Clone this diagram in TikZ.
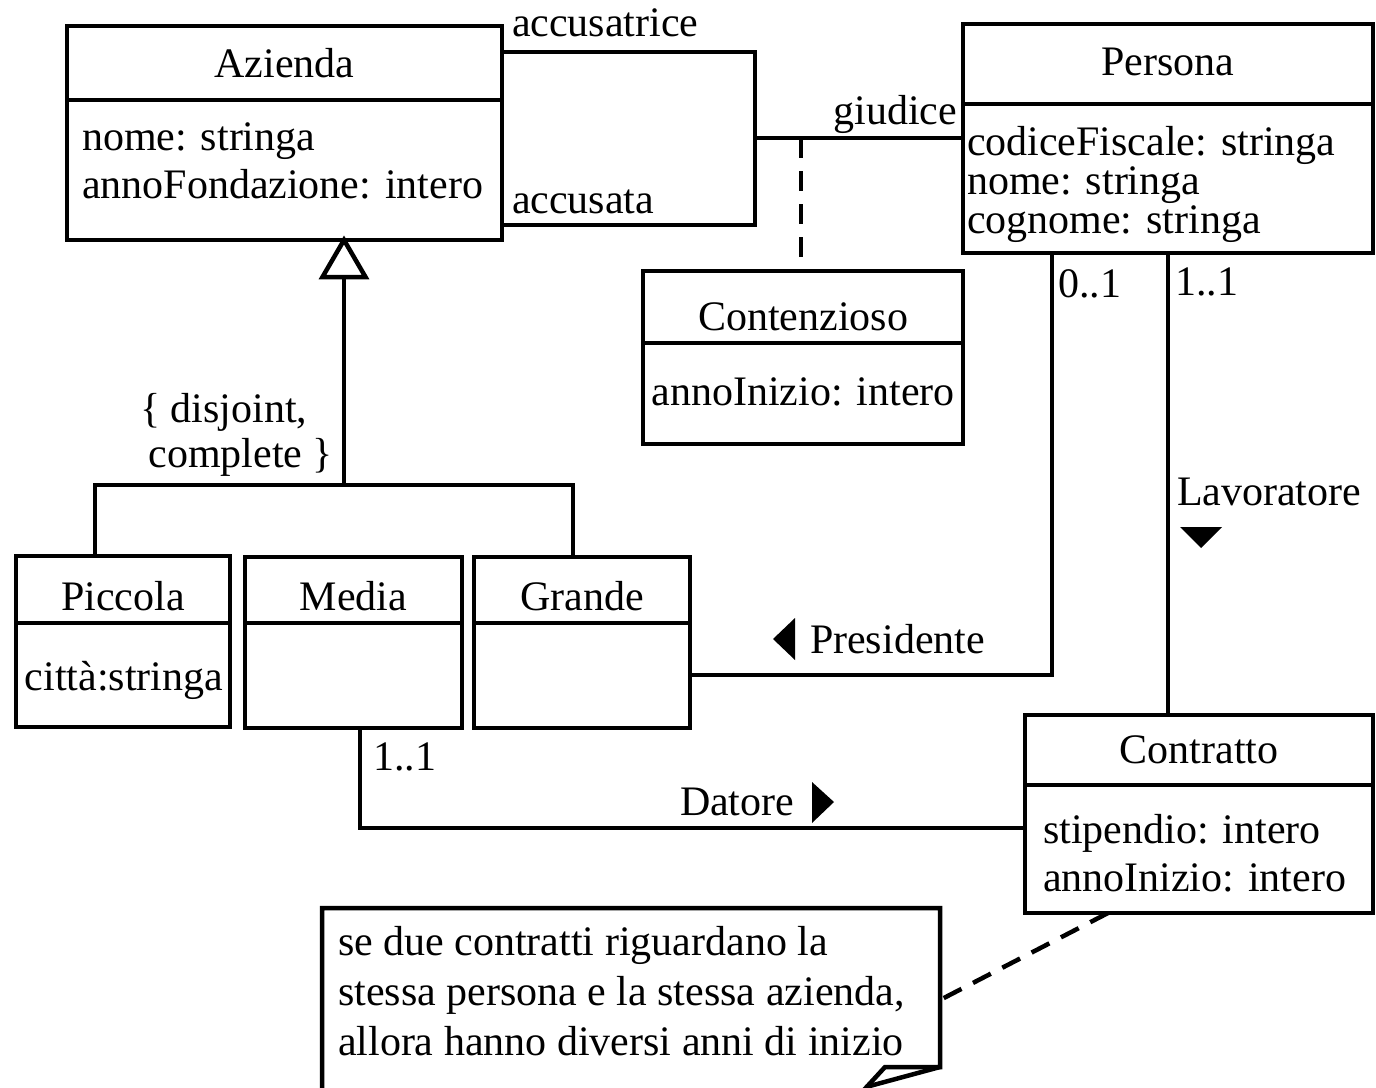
\documentclass[tikz,border=0pt]{standalone}
\usepackage{fontspec}
\setmainfont{Liberation Serif}
\begin{document}
\begin{tikzpicture}[x=1pt,y=-1pt,line width=4.5pt,
  box/.style={draw,inner sep=0pt,outer sep=0pt},
  txt/.style={inner sep=0pt,outer sep=0pt,font=\fontsize{42}{48}\selectfont},
  lbl/.style={txt,anchor=base west},
  ctr/.style={txt,anchor=base},
  rgt/.style={txt,anchor=base east},
  dashline/.style={dash pattern=on 20pt off 13pt},
  tri/.style={fill=black,draw=none}]
\useasboundingbox (0,0) rectangle (1376,1087);
% classes
\node[box,minimum width=435pt,minimum height=214pt] (az) at (284.5,133) {};
\node[box,minimum width=410pt,minimum height=229pt] (pe) at (1168,138.5) {};
\node[box,minimum width=320pt,minimum height=173pt] (co) at (803,357.5) {};
\node[box,minimum width=214pt,minimum height=171pt] (pi) at (123,641.5) {};
\node[box,minimum width=217pt,minimum height=171pt] (me) at (353.5,642.5) {};
\node[box,minimum width=216pt,minimum height=171pt] (gr) at (582,642.5) {};
\node[box,minimum width=348pt,minimum height=198pt] (ct) at (1199,814) {};
% dividers
\coordinate (dAz) at (0,100); \draw (az.west |- dAz) -- (az.east |- dAz);
\coordinate (dPe) at (0,104); \draw (pe.west |- dPe) -- (pe.east |- dPe);
\coordinate (dCo) at (0,343); \draw (co.west |- dCo) -- (co.east |- dCo);
\coordinate (dSub) at (0,623);
\draw (pi.west |- dSub) -- (pi.east |- dSub);
\draw (me.west |- dSub) -- (me.east |- dSub);
\draw (gr.west |- dSub) -- (gr.east |- dSub);
\coordinate (dCt) at (0,785); \draw (ct.west |- dCt) -- (ct.east |- dCt);
% class texts
\node[ctr] (tAz) at (284.5,77) {Azienda};
\node[lbl] (tAz1) at (82,150) {nome: stringa};
\node[lbl] (tAz2) at (82,198) {annoFondazione: intero};
\node[ctr] (tPe) at (1168,75) {Persona};
\node[lbl] (tPe1) at (967,155) {codiceFiscale: stringa};
\node[lbl] (tPe2) at (967,194) {nome: stringa};
\node[lbl] (tPe3) at (967,233) {cognome: stringa};
\node[ctr] (tCo) at (803,330) {Contenzioso};
\node[ctr] (tCo1) at (803,405) {annoInizio: intero};
\node[ctr] (tPi) at (123,610) {Piccola};
\node[ctr] (tPi1) at (124,690) {città:stringa};
\node[ctr] (tMe) at (353.5,610) {Media};
\node[ctr] (tGr) at (582,610) {Grande};
\node[ctr] (tCt) at (1199,763) {Contratto};
\node[lbl] (tCt1) at (1043,843) {stipendio: intero};
\node[lbl] (tCt2) at (1043,891) {annoInizio: intero};
% association accusatrice / accusata / giudice
\coordinate (b1) at (755,52);
\coordinate (b2) at (755,225);
\coordinate (b3) at (755,138);
\coordinate (b4) at (801,138);
\draw (az.east |- b1) -- (b1) -- (b2) -- (az.east |- b2);
\draw (b3) -- (pe.west |- b3);
\draw[dashline] (b4) -- (co.north -| b4);
\node[lbl] (lAcc1) at (512,36) {accusatrice};
\node[lbl] (lAcc2) at (512,213) {accusata};
\node[rgt] (lGiu) at (957,124) {giudice};
% generalization
\coordinate (g) at (344,485);
\coordinate (gT) at (344,277);
\coordinate (gL) at (95,485);
\coordinate (gR) at (573,485);
\draw[fill=white] (az.south -| g) -- ++(21.5,37) -- ++(-43,0) -- cycle;
\draw (gT) -- (g);
\draw (pi.north -| gL) -- (gL) -- (gR) -- (gr.north -| gR);
\node[lbl] (lDis1) at (140,422) {\{ disjoint,};
\node[rgt] (lDis2) at (333,467) {complete \}};
% Presidente
\coordinate (p1) at (1052,675);
\draw (gr.east |- p1) -- (p1) -- (pe.south -| p1);
\node[lbl] (lPr) at (810,653) {Presidente};
\fill (795,618) -- (795,660) -- (773,639) -- cycle;
\node[lbl] (m01) at (1058,297) {0..1};
% Lavoratore
\draw (pe.south) -- (pe.south |- ct.north);
\node[lbl] (m11a) at (1175,295) {1..1};
\node[lbl] (lLa) at (1177,505) {Lavoratore};
\fill (1180,527) -- (1222,527) -- (1201,548) -- cycle;
% Datore
\coordinate (d1) at (360,828);
\draw (me.south -| d1) -- (d1) -- (ct.west |- d1);
\node[lbl] (m11b) at (373,770) {1..1};
\node[lbl] (lDa) at (680,815) {Datore};
\fill (812,782) -- (812,823) -- (834,802) -- cycle;
% note
\draw[line join=miter] (322,1095) -- (322,908) -- (940,908) -- (940,1067) -- (885,1067) -- (862,1092);
\draw[line join=miter] (940,1067) -- (866,1087);
\node[lbl] (n1) at (338,955) {se due contratti riguardano la};
\node[lbl] (n2) at (338,1005) {stessa persona e la stessa azienda,};
\node[lbl] (n3) at (338,1055) {allora hanno diversi anni di inizio};
\coordinate (nR) at (940,1000);
\coordinate (nC) at (1108,0);
\draw[dashline] (ct.south -| nC) -- (nR);
\end{tikzpicture}
\end{document}
